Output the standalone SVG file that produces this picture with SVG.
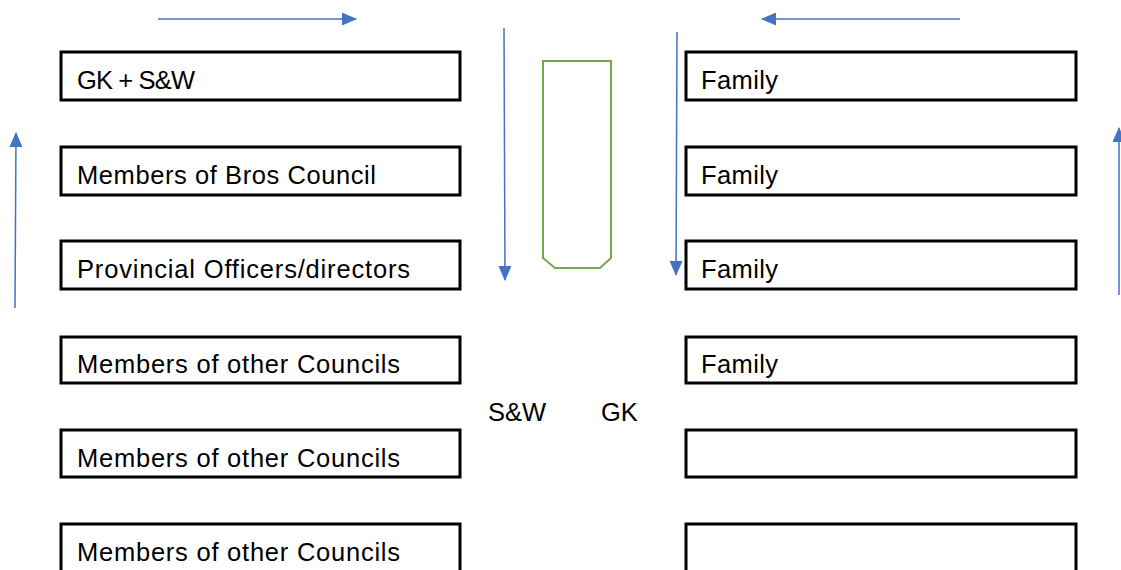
<svg xmlns="http://www.w3.org/2000/svg" width="1121" height="570" viewBox="0 0 1121 570">
<style>
.box{fill:#fff;stroke:#000;stroke-width:3}
.lbl{font-family:"Liberation Sans",Arial,sans-serif;font-size:25.5px;fill:#000}
.arr{stroke:#4472C4;stroke-width:1.5;fill:none}
.green{fill:none;stroke:#70AD47;stroke-width:2}
</style>
<defs>
<marker id="ah" markerWidth="15" markerHeight="13" refX="14" refY="6.5" orient="auto" markerUnits="userSpaceOnUse">
<path d="M0,0 L15,6.5 L0,13 Z" fill="#4472C4"/>
</marker>
</defs>
<rect width="1121" height="570" fill="#fff"/>
<g id="connectors">
<line class="arr" x1="158" y1="19" x2="356" y2="19" marker-end="url(#ah)"/>
<line class="arr" x1="960" y1="19" x2="762" y2="19" marker-end="url(#ah)"/>
<line class="arr" x1="504" y1="28" x2="505" y2="280" marker-end="url(#ah)"/>
<line class="arr" x1="677" y1="32" x2="676" y2="275" marker-end="url(#ah)"/>
<line class="arr" x1="15" y1="308" x2="16" y2="133" marker-end="url(#ah)"/>
<line class="arr" x1="1119" y1="295" x2="1119" y2="128" marker-end="url(#ah)"/>
</g>
<g id="green-shape">
<polygon class="green" points="543,61 611,61 611,258 600,268 555,268 543,258"/>
</g>
<g id="l1"><rect class="box" x="61" y="52" width="399" height="48"/><text class="lbl" x="77" y="89" textLength="118">GK + S&amp;W</text></g>
<g id="l2"><rect class="box" x="61" y="147" width="399" height="48"/><text class="lbl" x="77" y="184" textLength="299">Members of Bros Council</text></g>
<g id="l3"><rect class="box" x="61" y="241" width="399" height="48"/><text class="lbl" x="77" y="278" textLength="333">Provincial Officers/directors</text></g>
<g id="l4"><rect class="box" x="61" y="337" width="399" height="46"/><text class="lbl" x="77" y="373" textLength="323">Members of other Councils</text></g>
<g id="l5"><rect class="box" x="61" y="430" width="399" height="47"/><text class="lbl" x="77" y="467" textLength="323">Members of other Councils</text></g>
<g id="l6"><rect class="box" x="61" y="524" width="399" height="60"/><text class="lbl" x="77" y="561" textLength="323">Members of other Councils</text></g>
<g id="r1"><rect class="box" x="686" y="52" width="390" height="48"/><text class="lbl" x="701" y="89" textLength="77">Family</text></g>
<g id="r2"><rect class="box" x="686" y="147" width="390" height="48"/><text class="lbl" x="701" y="184" textLength="77">Family</text></g>
<g id="r3"><rect class="box" x="686" y="241" width="390" height="48"/><text class="lbl" x="701" y="278" textLength="77">Family</text></g>
<g id="r4"><rect class="box" x="686" y="337" width="390" height="46"/><text class="lbl" x="701" y="373" textLength="77">Family</text></g>
<g id="r5"><rect class="box" x="686" y="430" width="390" height="47"/></g>
<g id="r6"><rect class="box" x="686" y="524" width="390" height="60"/></g>
<g id="labels">
<text class="lbl" x="488" y="421">S&amp;W</text>
<text class="lbl" x="601" y="421">GK</text>
</g>
</svg>
